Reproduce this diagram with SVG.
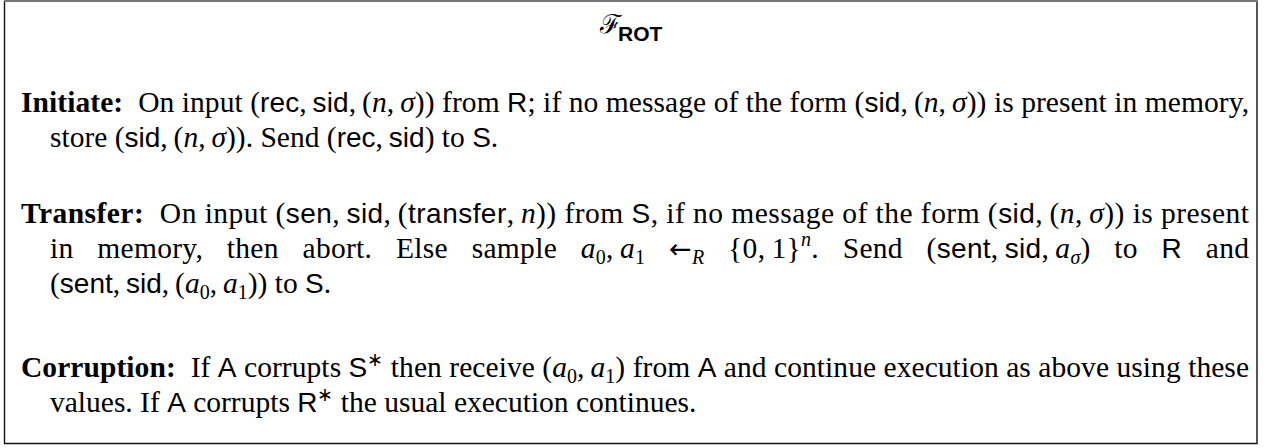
<svg xmlns="http://www.w3.org/2000/svg" width="1268" height="448" viewBox="0 0 1268 448">
<style>
text { font-family: "Liberation Serif", "Times New Roman", serif; font-size: 29.5px; fill: #000; }
.bf { font-weight: bold; }
.sf { font-family: "Liberation Sans", Arial, sans-serif; font-size: 28px; }
.it { font-style: italic; }
.sub { font-size: 20px; }
.ast { font-size: 19px; }
.arr { font-family: "DejaVu Sans", sans-serif; font-size: 27px; }
.cal { font-family: "DejaVu Serif", "Noto Sans", serif; font-size: 26px; }
.ttl { font-family: "Liberation Sans", Arial, sans-serif; font-weight: bold; font-size: 21px; }
.frame { fill: none; stroke: #111; stroke-width: 1.4; }
</style>
<rect x="0" y="0" width="1268" height="448" fill="#fff"/>
<path class="frame" d="M4.5 1 V443.5 H1257 V1"/>
<line x1="4" y1="1" x2="1257.7" y2="1" stroke="#777" stroke-width="2"/>
<g id="title">
<text x="600" y="33" class="cal">ℱ</text>
<text x="618" y="41" class="ttl">ROT</text>
</g>
<g id="initiate">
<text x="21" y="112" textLength="1228" lengthAdjust="spacing"><tspan class="bf">Initiate:</tspan>&#160; On input (<tspan class="sf">rec</tspan>,&#8201;<tspan class="sf">sid</tspan>,&#8201;(<tspan class="it">n</tspan>,&#8201;<tspan class="it">σ</tspan>)) from <tspan class="sf">R</tspan>; if no message of the form (<tspan class="sf">sid</tspan>,&#8201;(<tspan class="it">n</tspan>,&#8201;<tspan class="it">σ</tspan>)) is present in memory,</text>
<text x="50" y="147">store (<tspan class="sf">sid</tspan>,&#8201;(<tspan class="it">n</tspan>,&#8201;<tspan class="it">σ</tspan>)). Send (<tspan class="sf">rec</tspan>,&#8201;<tspan class="sf">sid</tspan>) to <tspan class="sf">S</tspan>.</text>
</g>
<g id="transfer">
<text x="21" y="223" textLength="1228" lengthAdjust="spacing"><tspan class="bf">Transfer:</tspan>&#160; On input (<tspan class="sf">sen</tspan>,&#8201;<tspan class="sf">sid</tspan>,&#8201;(<tspan class="sf">transfer</tspan>,&#8201;<tspan class="it">n</tspan>)) from <tspan class="sf">S</tspan>, if no message of the form (<tspan class="sf">sid</tspan>,&#8201;(<tspan class="it">n</tspan>,&#8201;<tspan class="it">σ</tspan>)) is present</text>
<text x="50" y="258" textLength="1199" lengthAdjust="spacing" style="word-spacing:16px">in memory, then abort. Else sample <tspan class="it">a</tspan><tspan class="sub" dy="6">0</tspan><tspan dy="-6">,&#8201;</tspan><tspan class="it">a</tspan><tspan class="sub" dy="6">1</tspan><tspan dy="-6"> </tspan><tspan class="arr">←</tspan><tspan class="sub it" dy="6">R</tspan><tspan dy="-6"> {0,&#8201;1}</tspan><tspan class="sub it" dy="-12">n</tspan><tspan dy="12">. Send (</tspan><tspan class="sf">sent</tspan>,&#8201;<tspan class="sf">sid</tspan>,&#8201;<tspan class="it">a</tspan><tspan class="sub it" dy="6">σ</tspan><tspan dy="-6">) to </tspan><tspan class="sf">R</tspan> and</text>
<text x="50" y="293">(<tspan class="sf">sent</tspan>,&#8201;<tspan class="sf">sid</tspan>,&#8201;(<tspan class="it">a</tspan><tspan class="sub" dy="6">0</tspan><tspan dy="-6">,&#8201;</tspan><tspan class="it">a</tspan><tspan class="sub" dy="6">1</tspan><tspan dy="-6">)) to </tspan><tspan class="sf">S</tspan>.</text>
</g>
<g id="corruption">
<text x="21" y="377" textLength="1228" lengthAdjust="spacing"><tspan class="bf">Corruption:</tspan>&#160; If <tspan class="sf">A</tspan> corrupts <tspan class="sf">S</tspan><tspan class="ast" dy="-11">∗</tspan><tspan dy="11"> then receive (</tspan><tspan class="it">a</tspan><tspan class="sub" dy="6">0</tspan><tspan dy="-6">,&#8201;</tspan><tspan class="it">a</tspan><tspan class="sub" dy="6">1</tspan><tspan dy="-6">) from </tspan><tspan class="sf">A</tspan> and continue execution as above using these</text>
<text x="50" y="412">values. If <tspan class="sf">A</tspan> corrupts <tspan class="sf">R</tspan><tspan class="ast" dy="-11">∗</tspan><tspan dy="11"> the usual execution continues.</tspan></text>
</g>
</svg>
